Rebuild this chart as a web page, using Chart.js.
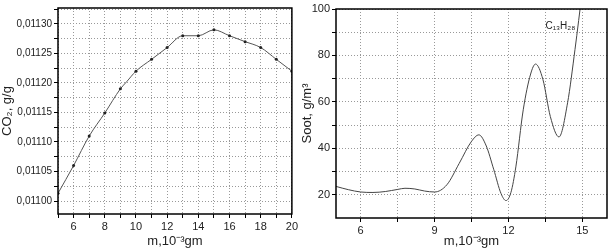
<!DOCTYPE html>
<html><head><meta charset="utf-8">
<script src="https://cdn.jsdelivr.net/npm/chart.js@4/dist/chart.umd.min.js"></script>
<style>
html,body{margin:0;padding:0;background:#fff;}
#wrap{position:relative;width:612px;height:249px;}
#c1{position:absolute;left:0;top:0;}
#c2{position:absolute;left:300px;top:0;}
</style></head><body>
<div id="wrap"><canvas id="c1" width="300" height="249"></canvas><canvas id="c2" width="312" height="249"></canvas></div>
<script>
const co2Mass = [5,6,7,8,9,9.4,10,11,12,13,14,15,16,17,18,19,20];
const co2Values = [0.011013,0.01106,0.01111,0.011149,0.01119,0.011202,0.01122,0.01124,0.01126,0.01128,0.01128,0.01129,0.01128,0.01127,0.01126,0.01124,0.01122];
const co2XTicks = [5,6,7,8,9,10,11,12,13,14,15,16,17,18,19,20];
const co2YTicks = [0.011,0.011025,0.01105,0.011075,0.0111,0.011125,0.01115,0.011175,0.0112,0.011225,0.01125,0.011275,0.0113,0.011325];

const sootMass = [5,5.5,6,6.5,7,7.5,7.8,8.2,8.6,9,9.5,10,10.5,10.8,11.1,11.4,11.7,11.9,12.1,12.3,12.6,12.9,13.1,13.4,13.7,14.05,14.4,14.7,15];
const sootValues = [23.6,22.2,21.2,21,21.4,22.3,22.8,22.5,21.6,21.2,24.3,33.5,43,45.8,41,31,20.5,17.5,21,32,56.6,72,76.3,69.6,53.7,44.9,59.6,82.5,108];
const sootXTicks = [6,7.5,9,10.5,12,13.5,15];
const sootYTicks = [20,30,40,50,60,70,80,90,100];
const sootLabel = 'C₁₃H₂₈';

const FONT = "'Liberation Sans', Arial, sans-serif";
Chart.defaults.font.family = FONT;
Chart.defaults.color = '#222';

const frame = {
  id:'frame',
  afterDatasetsDraw(chart){
    const a = chart.chartArea, c = chart.ctx;
    c.save(); c.strokeStyle='#000'; c.lineWidth=1.5;
    c.strokeRect(a.left, a.top, a.right-a.left, a.bottom-a.top);
    c.restore();
  }
};
const annot = {
  id:'annot',
  afterDatasetsDraw(chart){
    if(!chart.options.plugins.annotText) return;
    const t = chart.options.plugins.annotText;
    const c = chart.ctx;
    const x = chart.scales.x.getPixelForValue(t.x), y = chart.scales.y.getPixelForValue(t.y);
    c.save(); c.fillStyle='#222'; c.font = '10px '+FONT; c.textBaseline='middle';
    c.fillText(t.text, x, y); c.restore();
  }
};

function gridOpts(){
  return {color:'#999', tickColor:'#000', tickLength:4, drawTicks:true, lineWidth:1};
}

new Chart(document.getElementById('c1'), {
  type:'line',
  data:{datasets:[{data: co2Mass.map((m,i)=>({x:m,y:co2Values[i]})), borderColor:'#555', borderWidth:1,
    pointRadius: co2Mass.map(m=>Number.isInteger(m)?1.5:0), pointBackgroundColor:'#222', pointBorderWidth:0, tension:0.4, cubicInterpolationMode:'monotone'}]},
  options:{
    responsive:false, animation:false, events:[],
    layout:{padding:{top:6,right:7,left:0,bottom:0}},
    plugins:{legend:{display:false}, tooltip:{enabled:false}},
    scales:{
      x:{type:'linear', min:5, max:20,
        afterBuildTicks(s){ s.ticks = co2XTicks.map(v=>({value:v})); },
        afterFit(s){ s.height = 35; },
        ticks:{font:{size:11}, maxRotation:0, autoSkip:false, padding:2, callback:v=> v%2===0? String(v):''},
        grid:gridOpts(), border:{display:false, dash:[1,2]},
        title:{display:true, text:'m,10⁻³gm', font:{size:13}, padding:{top:0,bottom:0}, color:'#222'}},
      y:{type:'linear', min:0.010978, max:0.011327,
        afterBuildTicks(s){ s.ticks = co2YTicks.map(v=>({value:v})); },
        afterFit(s){ s.width = 58; },
        ticks:{font:{size:10}, autoSkip:false, padding:2, callback:v=>{ const k=Math.round((v-0.011)/0.000025); return k%2===0? v.toFixed(5).replace('.',','):''; }},
        grid:gridOpts(), border:{display:false, dash:[1,2]},
        title:{display:true, text:'CO₂, g/g', font:{size:13}, padding:{top:0,bottom:2}, color:'#222'}}
    }
  },
  plugins:[frame]
});

new Chart(document.getElementById('c2'), {
  type:'line',
  data:{datasets:[{data: sootMass.map((m,i)=>({x:m,y:sootValues[i]})), borderColor:'#444', borderWidth:1, pointRadius:0, tension:0.4, cubicInterpolationMode:'monotone'}]},
  options:{
    responsive:false, animation:false, events:[],
    layout:{padding:{top:9,right:5,left:0,bottom:0}},
    plugins:{legend:{display:false}, tooltip:{enabled:false}, annotText:{x:13.5, y:92.4, text:sootLabel}},
    scales:{
      x:{type:'linear', min:5, max:16,
        afterBuildTicks(s){ s.ticks = sootXTicks.map(v=>({value:v})); },
        afterFit(s){ s.height = 31; },
        ticks:{font:{size:11}, maxRotation:0, autoSkip:false, padding:2, callback:v=> v%3===0? String(v):''},
        grid:gridOpts(), border:{display:false, dash:[1,2]},
        title:{display:true, text:'m,10⁻³gm', font:{size:13}, padding:{top:0,bottom:0}, color:'#222'}},
      y:{type:'linear', min:10, max:100,
        afterBuildTicks(s){ s.ticks = sootYTicks.map(v=>({value:v})); },
        afterFit(s){ s.width = 36; },
        ticks:{font:{size:11}, autoSkip:false, padding:2, callback:v=> v%20===0? String(v):''},
        grid:gridOpts(), border:{display:false, dash:[1,2]},
        title:{display:true, text:'Soot, g/m³', font:{size:13}, padding:{top:0,bottom:1}, color:'#222'}}
    }
  },
  plugins:[frame, annot]
});
</script>
</body></html>
